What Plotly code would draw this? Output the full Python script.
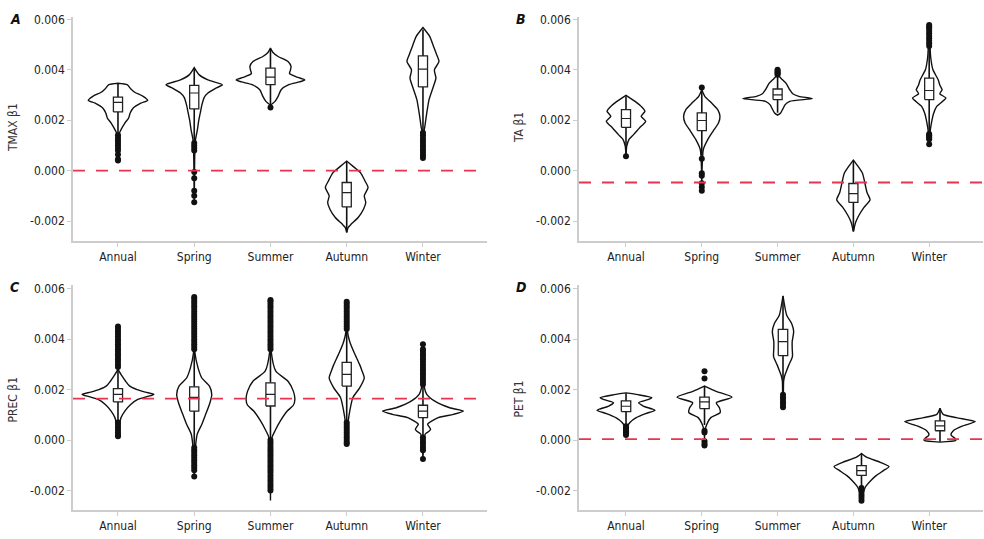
import numpy as np
import plotly.graph_objects as go

# ---------------- data (values in units of 1e-3) ----------------
SCALE = 1e-3
SEASONS = ["Annual", "Spring", "Summer", "Autumn", "Winter"]
PANEL_LETTERS = ["A", "B", "C", "D"]
Y_TITLES = ["TMAX β1", "TA β1", "PREC β1", "PET β1"]
REF_LINE = [0.0, -0.47, 1.64, 0.04]
Y_TICKS = [-0.002, 0.0, 0.002, 0.004, 0.006]
Y_TICK_LABELS = ["-0.002", "0.000", "0.002", "0.004", "0.006"]

# violin density profiles: levels (value) and half-widths (category units)
A_LEVELS = [
    [0.38, 0.9, 1.3, 1.5, 1.63, 1.89, 2.09, 2.29, 2.49, 2.68, 2.79, 2.95, 3.11, 3.24, 3.41, 3.47],
    [-1.25, -0.5, 0.5, 1.2, 1.6, 2.0, 2.3, 2.6, 2.9, 3.08, 3.28, 3.41, 3.6, 3.8, 4.09],
    [2.6, 2.75, 2.95, 3.21, 3.41, 3.52, 3.6, 3.7, 3.85, 3.97, 4.13, 4.33, 4.53, 4.7, 4.86],
    [-2.45, -2.25, -2.12, -1.86, -1.53, -1.26, -1.0, -0.67, -0.41, -0.08, 0.18, 0.38],
    [0.51, 1.0, 1.5, 1.76, 2.29, 2.82, 3.28, 3.67, 4.0, 4.33, 4.6, 4.92, 5.32, 5.68],
]
A_DENS = [
    [0, 0.005, 0.012, 0.02, 0.04, 0.09, 0.14, 0.16, 0.2, 0.3, 0.39, 0.33, 0.22, 0.17, 0.12, 0],
    [0, 0.003, 0.006, 0.015, 0.04, 0.06, 0.08, 0.1, 0.13, 0.18, 0.29, 0.37, 0.18, 0.066, 0],
    [0, 0.06, 0.1, 0.14, 0.24, 0.38, 0.45, 0.36, 0.25, 0.26, 0.27, 0.23, 0.1, 0.03, 0],
    [0, 0.02, 0.06, 0.15, 0.22, 0.25, 0.23, 0.28, 0.24, 0.18, 0.08, 0],
    [0, 0.005, 0.01, 0.025, 0.05, 0.08, 0.13, 0.17, 0.15, 0.21, 0.18, 0.14, 0.09, 0],
]
A_Q1 = [2.33, 2.45, 3.41, -1.44, 3.32]
A_MED = [2.71, 3.08, 3.71, -0.87, 4.03]
A_Q3 = [2.92, 3.38, 4.07, -0.47, 4.55]
A_LO = [1.45, 1.15, 2.62, -2.45, 1.55]
A_HI = [3.45, 4.05, 4.8, 0.36, 5.6]
A_OUT = [
    [1.4, 1.3, 1.2, 1.1, 1.0, 0.9, 0.8, 0.64, 0.45, 0.4],
    [1.1, 1.0, 0.9, 0.8, -0.05, -0.3, -0.8, -1.0, -1.25],
    [2.51],
    [],
    [1.5, 1.4, 1.3, 1.2, 1.1, 1.0, 0.9, 0.8, 0.7, 0.6, 0.5],
]

B_LEVELS = [
    [0.55, 0.97, 1.24, 1.43, 1.7, 1.96, 2.16, 2.36, 2.55, 2.75, 2.99],
    [-0.8, 0.0, 0.84, 1.24, 1.57, 1.89, 2.16, 2.42, 2.68, 2.95, 3.21],
    [2.2, 2.29, 2.45, 2.62, 2.75, 2.86, 2.95, 3.05, 3.21, 3.47, 3.65, 3.8],
    [-2.42, -2.05, -1.79, -1.46, -1.16, -0.87, -0.47, -0.1, 0.18, 0.42],
    [0.97, 1.5, 1.9, 2.29, 2.55, 2.88, 3.05, 3.21, 3.4, 3.6, 4.0, 4.5, 5.0, 5.78],
]
B_DENS = [
    [0, 0.01, 0.04, 0.1, 0.18, 0.26, 0.2, 0.25, 0.2, 0.12, 0],
    [0, 0.003, 0.02, 0.08, 0.15, 0.22, 0.24, 0.21, 0.13, 0.04, 0],
    [0, 0.04, 0.07, 0.1, 0.16, 0.46, 0.28, 0.2, 0.16, 0.11, 0.05, 0],
    [0, 0.03, 0.07, 0.14, 0.22, 0.18, 0.15, 0.12, 0.06, 0],
    [0, 0.01, 0.03, 0.06, 0.1, 0.22, 0.14, 0.17, 0.14, 0.12, 0.05, 0.02, 0.01, 0],
]
B_Q1 = [1.72, 1.59, 2.82, -1.26, 2.82]
B_MED = [2.07, 1.99, 3.01, -0.91, 3.18]
B_Q3 = [2.42, 2.29, 3.24, -0.51, 3.67]
B_LO = [0.68, 0.6, 2.3, -2.4, 1.55]
B_HI = [2.95, 3.2, 3.75, 0.4, 4.9]
B_OUT = [
    [0.57],
    [3.3, 0.47, -0.1, -0.2, -0.5, -0.65, -0.8],
    [3.8, 3.85, 3.9, 3.95, 4.0],
    [],
    [4.95, 5.05, 5.15, 5.25, 5.35, 5.45, 5.55, 5.65, 5.72, 5.78, 1.45, 1.4, 1.35, 1.3, 1.25, 1.05],
]

C_LEVELS = [
    [0.1, 0.63, 0.89, 1.15, 1.42, 1.61, 1.72, 1.81, 1.9, 2.0, 2.15, 2.33, 2.55, 2.8],
    [-1.44, -0.16, 0.24, 0.63, 1.02, 1.42, 1.81, 2.14, 2.46, 2.86, 3.45, 5.67],
    [-2.39, 0.1, 0.37, 0.76, 1.15, 1.38, 1.61, 1.94, 2.33, 2.73, 3.51, 5.6],
    [-0.16, 0.76, 1.15, 1.68, 2.07, 2.46, 2.75, 2.99, 3.45, 3.9, 4.3, 5.48],
    [-0.75, 0.24, 0.35, 0.43, 0.53, 0.63, 0.89, 1.02, 1.15, 1.28, 1.55, 1.81, 2.07, 3.84],
]
C_DENS = [
    [0, 0.02, 0.04, 0.09, 0.17, 0.26, 0.38, 0.47, 0.36, 0.25, 0.15, 0.1, 0.05, 0],
    [0, 0.02, 0.04, 0.1, 0.15, 0.2, 0.23, 0.2, 0.1, 0.05, 0.01, 0],
    [0, 0.02, 0.06, 0.13, 0.22, 0.3, 0.32, 0.3, 0.23, 0.07, 0.01, 0],
    [0, 0.02, 0.04, 0.08, 0.17, 0.23, 0.2, 0.17, 0.1, 0.04, 0.01, 0],
    [0, 0.03, 0.08, 0.1, 0.08, 0.06, 0.2, 0.4, 0.53, 0.35, 0.15, 0.05, 0.02, 0],
]
C_Q1 = [1.51, 1.15, 1.35, 2.14, 0.89]
C_MED = [1.81, 1.69, 1.81, 2.6, 1.15]
C_Q3 = [2.04, 2.11, 2.27, 3.08, 1.38]
C_LO = [0.75, -0.2, 0.05, 0.78, 0.2]
C_HI = [2.8, 3.5, 3.55, 4.3, 2.1]
C_OUT = [
    [2.9, 3.0, 3.1, 3.2, 3.3, 3.4, 3.5, 3.6, 3.7, 3.8, 3.9, 4.0, 4.1, 4.2, 4.3, 4.4, 4.5,
     0.7, 0.6, 0.5, 0.4, 0.3, 0.2, 0.15],
    [3.6, 3.7, 3.8, 3.9, 4.0, 4.1, 4.2, 4.3, 4.4, 4.5, 4.6, 4.7, 4.8, 4.9, 5.0, 5.1, 5.2,
     5.3, 5.4, 5.5, 5.6, 5.67,
     -0.3, -0.4, -0.5, -0.6, -0.7, -0.8, -0.9, -1.0, -1.1, -1.2, -1.44],
    [3.6, 3.7, 3.8, 3.9, 4.0, 4.1, 4.2, 4.3, 4.4, 4.5, 4.6, 4.7, 4.8, 4.9, 5.0, 5.1, 5.2,
     5.3, 5.4, 5.5, 5.55,
     0.0, -0.1, -0.2, -0.3, -0.4, -0.5, -0.6, -0.7, -0.8, -0.9, -1.0, -1.1, -1.2, -1.3,
     -1.4, -1.5, -1.6, -1.7, -1.8, -1.9, -2.0],
    [4.4, 4.5, 4.6, 4.7, 4.8, 4.9, 5.0, 5.1, 5.2, 5.3, 5.4, 5.48,
     0.7, 0.6, 0.5, 0.4, 0.3, 0.2, 0.1, 0.0, -0.1, -0.16],
    [2.2, 2.3, 2.4, 2.5, 2.6, 2.7, 2.8, 2.9, 3.0, 3.1, 3.2, 3.3, 3.4, 3.5, 3.6, 3.8,
     0.1, 0.0, -0.1, -0.2, -0.3, -0.4, -0.75],
]

D_LEVELS = [
    [0.17, 0.56, 0.7, 0.89, 1.05, 1.18, 1.35, 1.48, 1.6, 1.68, 1.8, 1.87],
    [-0.22, 0.37, 0.63, 0.89, 1.09, 1.28, 1.48, 1.7, 1.94, 2.14],
    [1.28, 1.8, 2.33, 2.53, 2.72, 2.99, 3.31, 3.64, 3.9, 4.3, 4.62, 4.95, 5.72],
    [-2.45, -2.12, -1.86, -1.6, -1.4, -1.21, -1.05, -0.88, -0.68, -0.53],
    [-0.08, -0.02, 0.04, 0.21, 0.37, 0.56, 0.73, 0.89, 1.02, 1.26],
]
D_DENS = [
    [0, 0.02, 0.05, 0.13, 0.25, 0.37, 0.22, 0.16, 0.28, 0.33, 0.15, 0],
    [0, 0.005, 0.03, 0.08, 0.2, 0.19, 0.15, 0.35, 0.14, 0],
    [0, 0.005, 0.008, 0.02, 0.042, 0.076, 0.12, 0.117, 0.117, 0.136, 0.11, 0.047, 0],
    [0, 0.02, 0.05, 0.12, 0.19, 0.28, 0.35, 0.24, 0.064, 0],
    [0, 0.2, 0.2, 0.14, 0.17, 0.29, 0.45, 0.21, 0.04, 0],
]
D_Q1 = [1.13, 1.25, 3.35, -1.4, 0.37]
D_MED = [1.34, 1.51, 3.9, -1.21, 0.56]
D_Q3 = [1.55, 1.7, 4.39, -1.01, 0.76]
D_LO = [0.6, 0.6, 1.9, -1.85, -0.07]
D_HI = [1.85, 2.15, 5.7, -0.55, 1.25]
D_OUT = [
    [0.55, 0.5, 0.45, 0.4, 0.35, 0.3, 0.25, 0.2],
    [2.73, 2.44, 0.37, 0.3, -0.05, -0.15, -0.22],
    [1.8, 1.7, 1.6, 1.5, 1.4, 1.3],
    [-1.9, -2.0, -2.1, -2.2, -2.3, -2.4],
    [],
]

PANELS = [
    (A_LEVELS, A_DENS, A_Q1, A_MED, A_Q3, A_LO, A_HI, A_OUT),
    (B_LEVELS, B_DENS, B_Q1, B_MED, B_Q3, B_LO, B_HI, B_OUT),
    (C_LEVELS, C_DENS, C_Q1, C_MED, C_Q3, C_LO, C_HI, C_OUT),
    (D_LEVELS, D_DENS, D_Q1, D_MED, D_Q3, D_LO, D_HI, D_OUT),
]

# ---------------- layout geometry (pixels of a 984x539 canvas) ----------------
W, H = 984, 539
FONT = "Liberation Sans Narrow, DejaVu Sans Condensed, Roboto Condensed, Roboto, sans-serif"
AX_COLOR = "#cdcdcd"
RED = "#e8344e"
BOX_HALF = 0.06


def px_x(p):
    return p / W


def px_y(p):
    return 1 - p / H


# [x0px, x1px, y_top_px, y_bot_px, x_range(marks), y_range, tick-axis x_range, title shift]
GEOM = [
    (73, 487, 13, 239, [-0.59, 4.84], [-2.8, 6.1], None, -1),
    (579, 983, 13, 239, [-0.62, 4.71], [-2.8, 6.1], None, -1),
    (73, 487, 283, 510, [-0.59, 4.84], [-2.78, 6.15], None, 2),
    (579, 983, 283, 510, [-0.599, 4.548], [-2.78, 6.15], [-0.62, 4.71], 2),
]

fig = go.Figure()
layout = dict(
    width=W, height=H, margin=dict(l=0, r=0, t=0, b=0),
    paper_bgcolor="white", plot_bgcolor="white", showlegend=False,
    font=dict(family=FONT, size=12, color="#222"),
)
shapes, annotations = [], []

for i, (geom, data) in enumerate(zip(GEOM, PANELS)):
    x0, x1, yt, yb, xr, yr, tick_xr, tshift = geom
    levels, dens, q1, med, q3, lo, hi, outs = data
    n = i + 1
    sx = "" if n == 1 else str(n)
    ydom = [px_y(yb), px_y(yt)]
    xdom = [px_x(x0), px_x(x1)]
    yax = dict(domain=ydom, range=[v * SCALE for v in yr], showgrid=False, zeroline=False,
               showline=True, linecolor=AX_COLOR, linewidth=1.6, ticks="outside",
               tickcolor=AX_COLOR, ticklen=4, tickwidth=1.3,
               tickvals=Y_TICKS, ticktext=Y_TICK_LABELS, tickfont=dict(size=12, color="#222"),
               anchor="x" + sx)
    xax = dict(domain=xdom, range=tick_xr if tick_xr else xr, showgrid=False, zeroline=False,
               showline=True, linecolor=AX_COLOR, linewidth=1.6, ticks="outside",
               tickcolor=AX_COLOR, ticklen=4, tickwidth=1.3,
               tickvals=list(range(5)), ticktext=SEASONS, tickfont=dict(size=12, color="#222"),
               anchor="y" + sx)
    layout["yaxis" + sx] = yax
    layout["xaxis" + sx] = xax
    if tick_xr:
        # marks of panel D sit on an overlaying (hidden) category axis
        mark_x = "x5"
        layout["xaxis5"] = dict(domain=xdom, range=xr, overlaying="x4", anchor="y4",
                                visible=False, showgrid=False, zeroline=False)
        # anchor trace so the visible x4/y4 subplot is drawn
        fig.add_trace(go.Scatter(x=[0], y=[0], mode="markers", marker=dict(opacity=0),
                                 xaxis="x4", yaxis="y4", hoverinfo="skip"))
    else:
        mark_x = "x" + sx
    mark_y = "y" + sx

    for c in range(5):
        lv = np.array(levels[c]) * SCALE
        dn = np.array(dens[c])
        xs = np.concatenate([c + dn, (c - dn)[::-1], [c + dn[0]]])
        ys = np.concatenate([lv, lv[::-1], [lv[0]]])
        fig.add_trace(go.Scatter(x=xs, y=ys, mode="lines", fill="toself", fillcolor="white",
                                 line=dict(color="#111", width=1.4, shape="spline", smoothing=0.6),
                                 xaxis=mark_x, yaxis=mark_y, hoverinfo="skip"))
        # whiskers
        fig.add_trace(go.Scatter(x=[c, c, None, c, c],
                                 y=[lo[c] * SCALE, q1[c] * SCALE, None, q3[c] * SCALE, hi[c] * SCALE],
                                 mode="lines", line=dict(color="#111", width=1.6),
                                 xaxis=mark_x, yaxis=mark_y, hoverinfo="skip"))
        # box
        fig.add_trace(go.Scatter(
            x=[c - BOX_HALF, c + BOX_HALF, c + BOX_HALF, c - BOX_HALF, c - BOX_HALF],
            y=[q1[c] * SCALE, q1[c] * SCALE, q3[c] * SCALE, q3[c] * SCALE, q1[c] * SCALE],
            mode="lines", fill="toself", fillcolor="white", line=dict(color="#222", width=1.3),
            xaxis=mark_x, yaxis=mark_y, hoverinfo="skip"))
        fig.add_trace(go.Scatter(x=[c - BOX_HALF, c + BOX_HALF], y=[med[c] * SCALE] * 2,
                                 mode="lines", line=dict(color="#222", width=1.2),
                                 xaxis=mark_x, yaxis=mark_y, hoverinfo="skip"))
        if outs[c]:
            fig.add_trace(go.Scatter(x=[c] * len(outs[c]), y=[v * SCALE for v in outs[c]],
                                     mode="markers", marker=dict(color="#111", size=6),
                                     xaxis=mark_x, yaxis=mark_y, hoverinfo="skip"))

    shapes.append(dict(type="line", xref="x" + sx + " domain", yref="y" + sx,
                       x0=0, x1=1, y0=REF_LINE[i] * SCALE, y1=REF_LINE[i] * SCALE,
                       line=dict(color=RED, width=1.8, dash="12px,11px"), layer="above"))
    # panel letter and y title
    annotations.append(dict(text="<b><i>%s</i></b>" % PANEL_LETTERS[i], xref="paper", yref="paper",
                            x=px_x(x0 - 58), y=px_y(yt + 2), xanchor="center", yanchor="middle",
                            showarrow=False, font=dict(size=14, color="#111", family=FONT)))
    annotations.append(dict(text=Y_TITLES[i], xref="paper", yref="paper", textangle=-90,
                            x=px_x(x0 - 60), y=px_y((yt + yb) / 2 + tshift), xanchor="center",
                            yanchor="middle", showarrow=False,
                            font=dict(size=12, color="#333", family=FONT)))

layout["shapes"] = shapes
layout["annotations"] = annotations
fig.update_layout(**layout)
fig.write_html("out.html", config={"displayModeBar": False},
               post_script="document.body.style.margin='0px';")
